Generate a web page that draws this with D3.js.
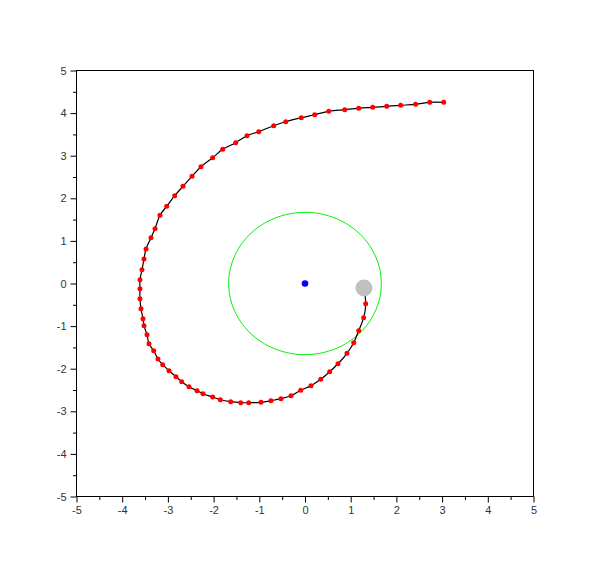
<!DOCTYPE html>
<html>
<head>
<meta charset="utf-8">
<script src="https://cdn.jsdelivr.net/npm/d3@7"></script>
<style>
html,body{margin:0;padding:0;background:#fff;}
svg{display:block;}
</style>
</head>
<body>
<svg id="chart" width="610" height="568"></svg>
<script>
// ---- data ----
const xTicks = [-5,-4,-3,-2,-1,0,1,2,3,4,5];
const yTicks = [-5,-4,-3,-2,-1,0,1,2,3,4,5];
const minorTicks = [-4.5,-3.5,-2.5,-1.5,-0.5,0.5,1.5,2.5,3.5,4.5];
const xDomain = [-5, 5];
const yDomain = [-5, 5];

const pathX = [1.328,1.284,1.175,1.066,0.919,0.722,0.540,0.344,0.131,-0.094,-0.306,-0.525,-0.744,-0.963,-1.232,-1.407,-1.626,-1.853,-2.020,-2.232,-2.363,-2.538,-2.698,-2.823,-2.976,-3.114,-3.217,-3.311,-3.414,-3.457,-3.523,-3.545,-3.589,-3.611,-3.611,-3.611,-3.567,-3.523,-3.479,-3.370,-3.282,-3.173,-3.026,-2.851,-2.670,-2.473,-2.276,-2.020,-1.801,-1.516,-1.269,-1.013,-0.685,-0.422,-0.081,0.212,0.519,0.869,1.175,1.481,1.788,2.094,2.422,2.729,3.035];
const pathY = [-0.474,-0.803,-1.108,-1.390,-1.638,-1.883,-2.070,-2.249,-2.399,-2.507,-2.634,-2.704,-2.751,-2.789,-2.798,-2.798,-2.775,-2.728,-2.664,-2.587,-2.516,-2.423,-2.305,-2.188,-2.047,-1.906,-1.772,-1.577,-1.413,-1.202,-0.991,-0.826,-0.592,-0.357,-0.122,0.089,0.324,0.575,0.810,1.075,1.286,1.601,1.812,2.061,2.282,2.516,2.742,2.953,3.150,3.305,3.469,3.563,3.704,3.798,3.892,3.962,4.042,4.080,4.113,4.136,4.160,4.183,4.207,4.254,4.254];

const startPoint = [1.29, -0.106];   // grey body
const centerPoint = [0, 0];         // blue body
const orbitRadius = [1.67];         // green circle radius

// ---- layout ----
const svg = d3.select("#chart");
const x = d3.scaleLinear().domain(xDomain).range([76.5, 533.5]);
const y = d3.scaleLinear().domain(yDomain).range([496.5, 70.5]);

// frame
svg.append("rect")
  .attr("x", x(-5)).attr("y", y(5))
  .attr("width", x(5)-x(-5)).attr("height", y(-5)-y(5))
  .attr("fill", "none").attr("stroke", "#000").attr("stroke-width", 1);

// axes
const fontFam = "'Liberation Sans', Arial, sans-serif";
const xAxis = d3.axisBottom(x).tickValues(xTicks).tickSize(6).tickFormat(d => String(d).replace("\u2212","-"));
const gx = svg.append("g").attr("transform", `translate(0,${y(-5)})`).call(xAxis);
gx.select(".domain").remove();
gx.selectAll("text").attr("font-family", fontFam).attr("font-size", 11).attr("fill", "#333").attr("dy", "0.9em").attr("y", 8);
gx.selectAll("line").attr("stroke", "#000");
const xMinor = d3.axisBottom(x).tickValues(minorTicks).tickSize(3.5).tickFormat("");
const gxm = svg.append("g").attr("transform", `translate(0,${y(-5)})`).call(xMinor);
gxm.select(".domain").remove();
gxm.selectAll("line").attr("stroke", "#000");

const yAxis = d3.axisLeft(y).tickValues(yTicks).tickSize(6).tickFormat(d => String(d).replace("\u2212","-"));
const gy = svg.append("g").attr("transform", `translate(${x(-5)},0)`).call(yAxis);
gy.select(".domain").remove();
gy.selectAll("text").attr("font-family", fontFam).attr("font-size", 11).attr("fill", "#333").attr("x", -10);
gy.selectAll("line").attr("stroke", "#000");
const yMinor = d3.axisLeft(y).tickValues(minorTicks).tickSize(3.5).tickFormat("");
const gym = svg.append("g").attr("transform", `translate(${x(-5)},0)`).call(yMinor);
gym.select(".domain").remove();
gym.selectAll("line").attr("stroke", "#000");

// green orbit circle (in data units)
const angles = d3.range(0, 361, 2);
const circ = angles.map(a => [orbitRadius[0]*Math.cos(a*Math.PI/180), orbitRadius[0]*Math.sin(a*Math.PI/180)]);
svg.append("path")
  .attr("d", d3.line().x(d => x(d[0])).y(d => y(d[1]))(circ))
  .attr("fill", "none").attr("stroke", "#00f000").attr("stroke-width", 1);

// trajectory line
const pts = pathX.map((v,i) => [v, pathY[i]]);
const linePts = [startPoint].concat(pts);
svg.append("path")
  .attr("d", d3.line().curve(d3.curveCatmullRom).x(d => x(d[0])).y(d => y(d[1]))(linePts))
  .attr("fill", "none").attr("stroke", "#000").attr("stroke-width", 1.2);

// red points
svg.append("g").selectAll("circle").data(pts).join("circle")
  .attr("cx", d => x(d[0])).attr("cy", d => y(d[1])).attr("r", 2.5)
  .attr("fill", "#ff0000");

// grey body
svg.append("circle")
  .attr("cx", x(startPoint[0])).attr("cy", y(startPoint[1])).attr("r", 8.5)
  .attr("fill", "#c0c0c0");

// blue center
svg.append("circle")
  .attr("cx", x(centerPoint[0])).attr("cy", y(centerPoint[1])).attr("r", 3.3)
  .attr("fill", "#0000ff");
</script>
</body>
</html>
